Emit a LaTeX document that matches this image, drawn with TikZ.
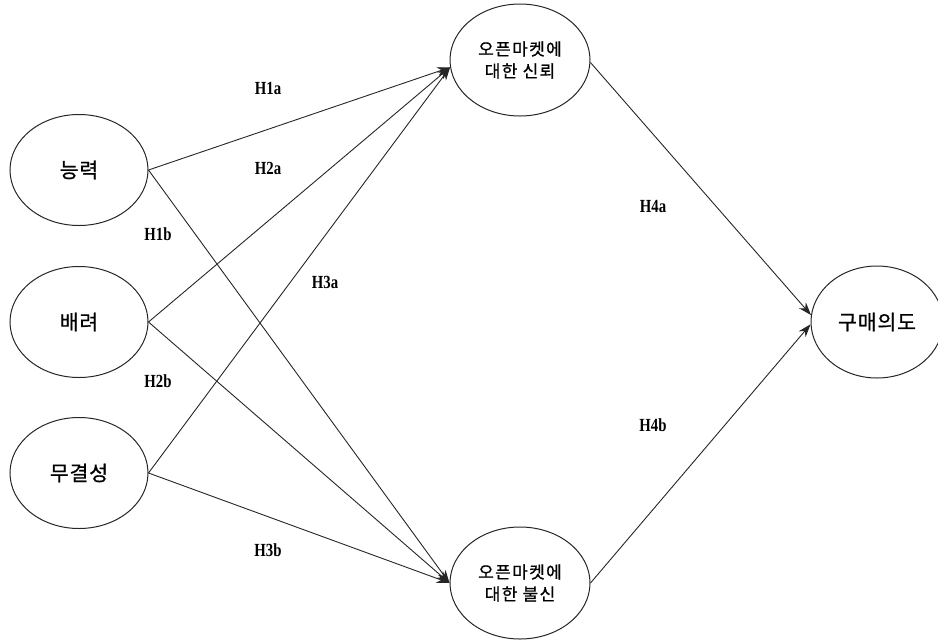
\documentclass[tikz,border=0pt]{standalone}
\usepackage{fontspec}
\setmainfont{Liberation Serif}
\newfontfamily\kofont[FakeBold=0.8, LetterSpace=4]{Noto Sans CJK KR}
\newfontfamily\kofontwide[FakeBold=0.8, LetterSpace=8]{Noto Sans CJK KR}
\usetikzlibrary{shapes.geometric,arrows.meta}

\tikzset{
  construct/.style={ellipse, draw=black!85, line width=1pt, inner sep=0pt,
    minimum width=138pt, minimum height=111pt, align=center,
    font=\kofont\fontsize{20.5}{22}\selectfont},
  mediator/.style={construct, minimum width=140pt, minimum height=112pt,
    font=\kofontwide\fontsize{17}{22}\selectfont},
  path/.style={draw=black!85, line width=0.9pt,
    -{Stealth[length=13pt,width=9pt]}},
  hyp/.style={font=\bfseries\fontsize{18.5}{19}\selectfont, xscale=0.8,
    inner sep=0pt}
}

\begin{document}
\begin{tikzpicture}[x=1pt,y=-1pt]
  \useasboundingbox (0,0) rectangle (938,641);

  % antecedents
  \node[construct] (ability)   at (79,170) {능력};
  \node[construct] (benev)     at (79,322) {배려};
  \node[construct] (integrity) at (79,473) {무결성};

  % mediators
  \node[mediator] (trust)    at (520,60)  {오픈마켓에\\대한 신뢰};
  \node[mediator] (distrust) at (520,583) {오픈마켓에\\대한 불신};

  % outcome
  \node[construct, minimum width=132pt, minimum height=112pt] (intent) at (877,322) {구매의도};

  % paths to trust
  \draw[path] (ability.east)   -- (trust.186);
  \draw[path] (benev.east)     -- (trust.186);
  \draw[path] (integrity.east) -- (trust.186);

  % paths to distrust
  \draw[path] (ability.east)   -- (distrust.180);
  \draw[path] (benev.east)     -- (distrust.180);
  \draw[path] (integrity.east) -- (distrust.180);

  % paths to purchase intention
  \draw[path] (trust.358)     -- (intent.174);
  \draw[path] (distrust.east) -- (intent.182);

  % hypothesis labels
  \node[hyp] (h1a) at (268,88)  {H1a};
  \node[hyp] (h2a) at (268,168) {H2a};
  \node[hyp] (h1b) at (158,234) {H1b};
  \node[hyp] (h3a) at (325,282) {H3a};
  \node[hyp] (h2b) at (158,381) {H2b};
  \node[hyp] (h3b) at (268,550) {H3b};
  \node[hyp] (h4a) at (653,206) {H4a};
  \node[hyp] (h4b) at (653,425) {H4b};
\end{tikzpicture}
\end{document}
